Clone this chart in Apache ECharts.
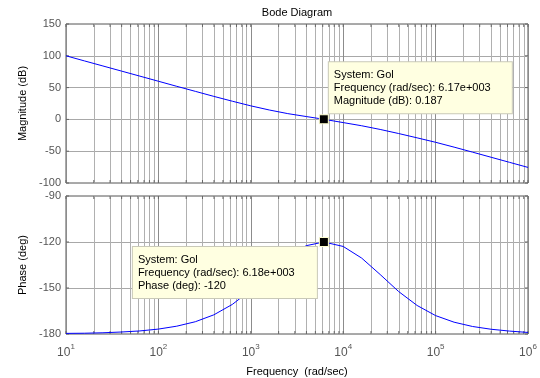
<!DOCTYPE html>
<html>
<head>
<meta charset="utf-8">
<script src="https://cdn.jsdelivr.net/npm/echarts@6/dist/echarts.min.js"></script>
<style>
html,body{margin:0;padding:0;background:#fff;}
#chart{width:540px;height:378px;}
</style>
</head>
<body>
<div id="chart"></div>
<script>
// ---- data ----
const freq = [10, 15.8, 25.1, 39.8, 63.1, 100, 158, 251, 398, 631, 1000, 1585, 2512, 3981, 6170,
  10000, 15850, 25120, 39810, 63100, 100000, 158500, 251200, 398100, 631000, 1000000];
const magnitude = [100.0, 92.0, 84.0, 76.0, 68.0, 60.0, 52.0, 44.1, 36.2, 28.6, 21.3, 14.8, 9.1, 4.5, 0.2,
  -5.0, -10.0, -15.8, -22.2, -29.0, -36.0, -43.6, -51.5, -59.5, -67.5, -75.5];
const phase = [-179.6, -179.5, -179.2, -178.7, -178.0, -176.8, -174.9, -172.0, -167.5, -160.7, -151.4,
  -140.2, -129.6, -122.4, -120.0, -122.9, -130.5, -141.2, -152.3, -161.4, -168.0, -172.3, -175.1,
  -176.9, -178.1, -179.0];
const magTicks = [-100, -50, 0, 50, 100, 150];
const phaseTicks = [-180, -150, -120, -90];
const decades = [10, 100, 1000, 10000, 100000, 1000000];
const minorMult = [2, 3, 4, 5, 6, 7, 8, 9];
const tipMag = {freq: 6170, value: 0.187, lines: ['System: Gol', 'Frequency (rad/sec): 6.17e+003', 'Magnitude (dB): 0.187']};
const tipPhase = {freq: 6180, value: -120, lines: ['System: Gol', 'Frequency (rad/sec): 6.18e+003', 'Phase (deg): -120']};

// ---- build ----
const minorLines = [];
decades.slice(0, -1).forEach(d => minorMult.forEach(m => minorLines.push(d * m)));
const allX = decades.concat(minorLines);

const FONT = '"Liberation Sans", Arial, sans-serif';
const magData = freq.map((f, i) => [f, magnitude[i]]);
const phaseData = freq.map((f, i) => [f, phase[i]]);

function edgeTicks(ymin, ymax) {
  const pts = [];
  allX.forEach(v => {
    pts.push({value: [v, ymax], symbolOffset: [0, 1.5]});
    pts.push({value: [v, ymin], symbolOffset: [0, -1.5]});
  });
  return pts;
}
function sideTicks(ticks) {
  const pts = [];
  ticks.forEach(t => {
    pts.push({value: [10, t], symbolOffset: [1.5, 0]});
    pts.push({value: [1000000, t], symbolOffset: [-1.5, 0]});
  });
  return pts;
}

const tipLabel = {
  show: true,
  opacity: 1,
  color: '#000',
  fontFamily: FONT,
  fontSize: 11,
  lineHeight: 13,
  backgroundColor: '#ffffe1',
  borderColor: '#c9c9b8',
  borderWidth: 1,
  padding: [6, 6, 6, 5],
  align: 'left'
};

const xCommon = {
  type: 'log', logBase: 10, min: 10, max: 1000000,
  axisLine: {show: false},
  axisTick: {show: false},
  splitLine: {show: true, lineStyle: {color: '#8c8c8c', width: 1}},
};
const yCommon = {
  type: 'value',
  axisLine: {show: false},
  axisTick: {show: false},
  splitLine: {show: true, lineStyle: {color: '#a8a8a8', width: 1}},
  axisLabel: {color: '#555', fontSize: 11, fontFamily: FONT, margin: 5},
  nameLocation: 'middle',
  nameGap: 38,
  nameTextStyle: {color: '#000', fontSize: 11, fontFamily: FONT}
};

const chart = echarts.init(document.getElementById('chart'), null, {renderer: 'canvas'});
chart.setOption({
  animation: false,
  backgroundColor: '#fff',
  graphic: [{
    type: 'text', x: 297, y: 13,
    style: {text: 'Bode Diagram', fill: '#000', font: '11px ' + FONT, textAlign: 'center', textVerticalAlign: 'middle'}
  }],
  grid: [
    {left: 66, right: 12, top: 24, height: 159, show: true, borderColor: '#555', borderWidth: 1},
    {left: 66, right: 12, top: 196, height: 139, show: true, borderColor: '#555', borderWidth: 1}
  ],
  xAxis: [
    Object.assign({}, xCommon, {gridIndex: 0, axisLabel: {show: false}}),
    Object.assign({}, xCommon, {
      gridIndex: 1,
      name: 'Frequency  (rad/sec)', nameLocation: 'middle', nameGap: 32,
      nameTextStyle: {color: '#000', fontSize: 11, fontFamily: FONT},
      axisLabel: {
        show: true, margin: 9,
        formatter: v => '{b|10}{s|' + Math.round(Math.log10(v)) + '}',
        rich: {
          b: {fontSize: 12, color: '#555', fontFamily: FONT, lineHeight: 16, verticalAlign: 'bottom'},
          s: {fontSize: 8, color: '#555', fontFamily: FONT, lineHeight: 16, verticalAlign: 'top', padding: [0, 0, 7, 0]}
        }
      }
    })
  ],
  yAxis: [
    Object.assign({}, yCommon, {gridIndex: 0, min: magTicks[0], max: magTicks[magTicks.length - 1], interval: 50, name: 'Magnitude (dB)'}),
    Object.assign({}, yCommon, {gridIndex: 1, min: phaseTicks[0], max: phaseTicks[phaseTicks.length - 1], interval: 30, name: 'Phase (deg)'})
  ],
  series: [
    {
      type: 'scatter', xAxisIndex: 0, yAxisIndex: 0, z: 1, silent: true,
      symbol: 'rect', symbolSize: [1, 3], itemStyle: {color: '#666', opacity: 1},
      data: edgeTicks(-100, 150),
      markLine: {
        silent: true, symbol: 'none', z: 1, label: {show: false},
        lineStyle: {color: '#b0b0b0', width: 1, type: 'solid'},
        data: minorLines.map(v => ({xAxis: v}))
      }
    },
    {
      type: 'scatter', xAxisIndex: 0, yAxisIndex: 0, z: 1, silent: true,
      symbol: 'rect', symbolSize: [3, 1], itemStyle: {color: '#666', opacity: 1},
      data: sideTicks(magTicks)
    },
    {
      type: 'scatter', xAxisIndex: 1, yAxisIndex: 1, z: 1, silent: true,
      symbol: 'rect', symbolSize: [1, 3], itemStyle: {color: '#666', opacity: 1},
      data: edgeTicks(-180, -90),
      markLine: {
        silent: true, symbol: 'none', z: 1, label: {show: false},
        lineStyle: {color: '#b0b0b0', width: 1, type: 'solid'},
        data: minorLines.map(v => ({xAxis: v}))
      }
    },
    {
      type: 'scatter', xAxisIndex: 1, yAxisIndex: 1, z: 1, silent: true,
      symbol: 'rect', symbolSize: [3, 1], itemStyle: {color: '#666', opacity: 1},
      data: sideTicks(phaseTicks)
    },
    {
      type: 'line', xAxisIndex: 0, yAxisIndex: 0, z: 3, showSymbol: false, smooth: false,
      lineStyle: {color: '#0000ff', width: 1}, data: magData
    },
    {
      type: 'line', xAxisIndex: 1, yAxisIndex: 1, z: 3, showSymbol: false, smooth: false,
      lineStyle: {color: '#0000ff', width: 1}, data: phaseData
    },
    {
      type: 'scatter', xAxisIndex: 0, yAxisIndex: 0, z: 6, zlevel: 1,
      symbol: 'rect', symbolSize: 9,
      itemStyle: {color: '#000', borderColor: '#ffffd0', borderWidth: 1, opacity: 1},
      label: Object.assign({}, tipLabel, {position: [10, -52], width: 172, formatter: () => tipMag.lines.join('\n')}),
      data: [[tipMag.freq, tipMag.value]]
    },
    {
      type: 'scatter', xAxisIndex: 1, yAxisIndex: 1, z: 6, zlevel: 1,
      symbol: 'rect', symbolSize: 9,
      itemStyle: {color: '#000', borderColor: '#ffffd0', borderWidth: 1, opacity: 1},
      label: Object.assign({}, tipLabel, {position: [-186, 10], width: 173, formatter: () => tipPhase.lines.join('\n')}),
      data: [[tipPhase.freq, tipPhase.value]]
    }
  ]
});
</script>
</body>
</html>
